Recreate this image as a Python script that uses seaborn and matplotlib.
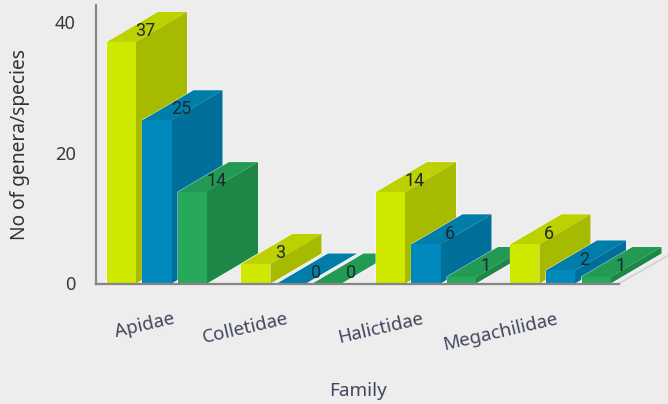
import matplotlib
matplotlib.use("Agg")
import matplotlib.pyplot as plt
import pandas as pd
import seaborn as sns
from matplotlib.patches import Polygon
from matplotlib.transforms import ScaledTranslation

families = ["Apidae", "Colletidae", "Halictidae", "Megachilidae"]
series_names = ["A", "B", "C"]
series_a = [37, 3, 14, 6]
series_b = [25, 0, 6, 2]
series_c = [14, 0, 1, 1]

front_colors = ["#CFE800", "#0089BC", "#27A85B"]
side_colors = ["#A6BA00", "#006F99", "#1E8748"]
top_colors = ["#BDD000", "#007DA9", "#239A53"]

WIDTH, HEIGHT = 668, 404
LEFT, RIGHT, TOP, BOTTOM = 95.5, 619.0, 5.0, 283.5
GROUP_PX = 134.5
UNIT_PX = 6.53
DEPTH_X, DEPTH_Y = 51 / GROUP_PX, 30 / UNIT_PX

sns.set_theme(style="white")
plt.rcParams["font.family"] = ["Noto Sans", "DejaVu Sans"]
plt.rcParams["figure.facecolor"] = "#EDEDED"
plt.rcParams["axes.facecolor"] = "#EDEDED"

df = pd.DataFrame({
    "family": families * 3,
    "series": [s for s in series_names for _ in families],
    "count": series_a + series_b + series_c,
})

fig = plt.figure(figsize=(WIDTH / 100, HEIGHT / 100), dpi=100)
ax = fig.add_axes([LEFT / WIDTH, 1 - BOTTOM / HEIGHT, (RIGHT - LEFT) / WIDTH, (BOTTOM - TOP) / HEIGHT])
sns.barplot(data=df, x="family", y="count", hue="series", palette=front_colors,
            width=0.792, gap=0.183, legend=False, saturation=1, ax=ax)

ax.set_xlim((LEFT - 157) / GROUP_PX, (RIGHT - 157) / GROUP_PX)
ax.set_ylim(0, (BOTTOM - TOP) / UNIT_PX)

for s, container in enumerate(ax.containers):
    for g, bar in enumerate(container.patches):
        x0, x1 = bar.get_x(), bar.get_x() + bar.get_width()
        h = bar.get_height()
        z = 3 + g * 3 + s * 0.5
        bar.set_zorder(z + 0.2)
        bar.set_clip_on(False)
        bar.set_linewidth(0)
        outline = [(x0, 0), (x1, 0), (x1 + DEPTH_X, DEPTH_Y), (x1 + DEPTH_X, h + DEPTH_Y),
                   (x0 + DEPTH_X, h + DEPTH_Y), (x0, h)]
        side = [(x1, 0), (x1 + DEPTH_X, DEPTH_Y), (x1 + DEPTH_X, h + DEPTH_Y), (x1, h)]
        top = [(x0, h), (x1, h), (x1 + DEPTH_X, h + DEPTH_Y), (x0 + DEPTH_X, h + DEPTH_Y)]
        ax.add_patch(Polygon(outline, facecolor="none", edgecolor="#FFFFFF", lw=1.0, alpha=0.55,
                             zorder=z, clip_on=False))
        ax.add_patch(Polygon(side, facecolor=side_colors[s], edgecolor="none", zorder=z + 0.1, clip_on=False))
        ax.add_patch(Polygon(top, facecolor=top_colors[s], edgecolor="none", zorder=z + 0.1, clip_on=False))
        ax.text((x0 + x1) / 2 + DEPTH_X / 2 - 0.01, h + DEPTH_Y / 2 - 0.65, f"{h:.0f}", ha="center", va="center",
                fontsize=13, color="#1A2A30", family="Roboto", zorder=50)

# floor edge running back from the end of the axis
ax.plot([(RIGHT - 157) / GROUP_PX, (668 - 157) / GROUP_PX], [0, 28 / UNIT_PX],
        color="#D2D2D2", lw=1.2, clip_on=False, zorder=1)

for name in ["top", "right"]:
    ax.spines[name].set_visible(False)
for name in ["left", "bottom"]:
    ax.spines[name].set_color("#858585")
    ax.spines[name].set_linewidth(1.6)
    ax.spines[name].set_zorder(40)

ax.set_yticks([0, 20, 40])
ax.tick_params(axis="both", length=0)
ax.tick_params(axis="y", pad=14, labelsize=13.2, labelcolor="#3A3A3A")
ax.set_xticks(range(len(families)))
ax.set_xticklabels(families, rotation=13, ha="right", rotation_mode="anchor", fontsize=13.5, color="#42465E")
ax.tick_params(axis="x", pad=19)
nudges = [15, -5, -5, -5]
for label, nudge in zip(ax.get_xticklabels(), nudges):
    label.set_transform(label.get_transform() + ScaledTranslation(nudge / 100, 0, fig.dpi_scale_trans))

ax.set_xlabel("")
ax.set_ylabel("")
fig.text(358 / WIDTH, 1 - 391 / HEIGHT, "Family", ha="center", va="center", fontsize=13.6, color="#42465E")
fig.text(20.5 / WIDTH, 1 - 144 / HEIGHT, "No of genera/species", rotation=90, ha="center", va="center",
         fontsize=13.8, color="#333333")

fig.savefig("out.png", dpi=100, facecolor=fig.get_facecolor())
